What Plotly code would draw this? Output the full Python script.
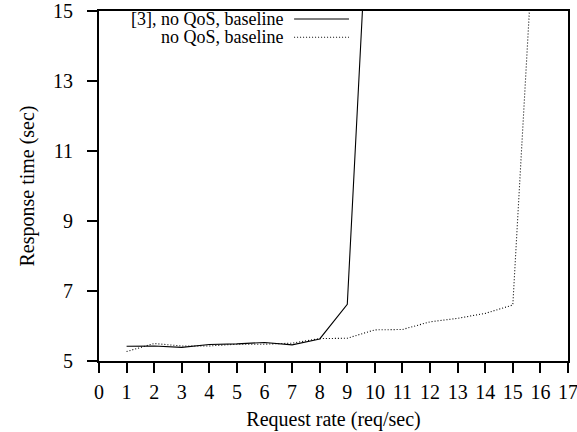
import plotly.graph_objects as go

# Data
rates = [1, 2, 3, 4, 5, 6, 7, 8, 9, 10, 11, 12, 13, 14, 15, 16]
ref3_no_qos = [5.42, 5.43, 5.39, 5.47, 5.49, 5.53, 5.46, 5.63, 6.62, 21.9]
no_qos = [5.27, 5.50, 5.43, 5.43, 5.48, 5.48, 5.51, 5.64, 5.65, 5.89, 5.90, 6.12, 6.22, 6.36, 6.60, 20.6]
series_names = ["[3], no QoS, baseline", "no QoS, baseline"]
x_ticks = list(range(0, 18))
y_ticks = [5, 7, 9, 11, 13, 15]

FONT = "Liberation Serif"
FS = 20
LEG_FS = 18
DOT = "1px,2px"

fig = go.Figure()
fig.add_trace(go.Scatter(x=rates[:len(ref3_no_qos)], y=ref3_no_qos, mode="lines",
                         line=dict(color="black", width=1.1), name=series_names[0],
                         showlegend=False))
fig.add_trace(go.Scatter(x=rates[:len(no_qos)], y=no_qos, mode="lines",
                         line=dict(color="black", width=1.1, dash=DOT), name=series_names[1],
                         showlegend=False))

# Legend drawn manually (text right-aligned, line sample to the right)
leg_rows = [(series_names[0], "solid", 0.977), (series_names[1], DOT, 0.925)]
for name, dash, yy in leg_rows:
    fig.add_annotation(xref="paper", yref="paper", x=0.397, y=yy, text=name,
                       showarrow=False, xanchor="right", yanchor="middle",
                       font=dict(family=FONT, size=LEG_FS, color="black"))
    fig.add_shape(type="line", xref="paper", yref="paper", x0=0.416, x1=0.533, y0=yy, y1=yy,
                  line=dict(color="black", width=1.1, dash=dash))

fig.update_layout(
    width=577, height=432,
    margin=dict(l=99, r=9, t=11, b=71, autoexpand=False),
    paper_bgcolor="white", plot_bgcolor="white",
    font=dict(family=FONT, size=FS, color="black"),
    showlegend=False,
)
fig.update_xaxes(range=[0, 17], tickvals=x_ticks, ticks="outside", ticklen=10, tickwidth=1.5,
                 tickcolor="black", showline=True, linecolor="black", linewidth=2, mirror=True,
                 showgrid=False, zeroline=False, automargin=False, ticklabeloverflow="allow",
                 ticklabelstandoff=2,
                 title=dict(text="Request rate (req/sec)", standoff=10, font=dict(size=FS)),
                 tickfont=dict(size=FS))
fig.update_yaxes(range=[5, 15], tickvals=y_ticks, ticks="outside", ticklen=10, tickwidth=1.5,
                 tickcolor="black", showline=True, linecolor="black", linewidth=2, mirror=True,
                 showgrid=False, zeroline=False, automargin=False, ticklabeloverflow="allow",
                 ticklabelstandoff=10,
                 title=dict(text="Response time (sec)", standoff=13, font=dict(size=FS)),
                 tickfont=dict(size=FS))

# Remove the default 8px page margin so the figure sits at the window's top-left corner
fig.write_html("out.html", config={"displayModeBar": False},
               post_script="document.body.style.margin='0';")
